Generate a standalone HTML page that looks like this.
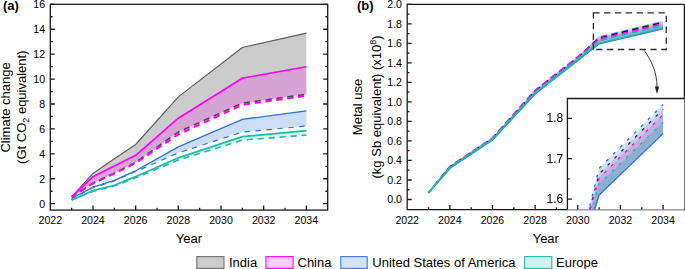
<!DOCTYPE html><html><head><meta charset="utf-8"><style>html,body{margin:0;padding:0;background:#fff;}body{width:685px;height:269px;overflow:hidden;position:relative;font-family:"Liberation Sans", sans-serif;}</style></head><body><svg width="685" height="269" viewBox="0 0 685 269" style="position:absolute;left:0;top:0;font-family:'Liberation Sans', sans-serif">
<rect width="685" height="269" fill="#fff"/>
<g>
<path d="M71.64,196.85 L92.98,173.42 L114.32,158.83 L135.65,144.50 L178.33,96.90 L242.35,47.54 L306.36,33.09 L306.36,94.28 L242.35,103.13 L178.33,132.04 L135.65,162.32 L114.32,173.17 L92.98,183.14 L71.64,196.85Z" fill="rgba(0,0,0,0.2)" stroke="none"/>
<path d="M71.64,196.85 L92.98,176.66 L114.32,166.06 L135.65,155.35 L178.33,118.21 L242.35,78.20 L306.36,66.74 L306.36,95.77 L242.35,104.87 L178.33,134.41 L135.65,163.07 L114.32,173.54 L92.98,183.51 L71.64,196.85Z" fill="rgba(255,0,255,0.2)" stroke="none"/>
<path d="M71.64,198.47 L92.98,187.12 L114.32,180.40 L135.65,170.80 L178.33,146.87 L242.35,119.33 L306.36,110.85 L306.36,126.06 L242.35,132.04 L178.33,152.85 L135.65,171.55 L114.32,181.02 L92.98,187.75 L71.64,198.47Z" fill="rgba(0,92,214,0.2)" stroke="none"/>
<path d="M71.64,199.96 L92.98,190.61 L114.32,185.26 L135.65,176.66 L178.33,157.84 L242.35,136.65 L306.36,130.55 L306.36,135.16 L242.35,140.14 L178.33,160.08 L135.65,177.78 L114.32,186.00 L92.98,191.24 L71.64,199.96Z" fill="rgba(32,190,170,0.2)" stroke="none"/>
</g>
<polyline points="71.64,196.85 92.98,173.42 114.32,158.83 135.65,144.50 178.33,96.90 242.35,47.54 306.36,33.09" fill="none" stroke="#5e5e5e" stroke-width="1.15" stroke-linejoin="round"/>
<polyline points="71.64,196.85 92.98,176.66 114.32,166.06 135.65,155.35 178.33,118.21 242.35,78.20 306.36,66.74" fill="none" stroke="#ff00ff" stroke-width="1.7" stroke-linejoin="round"/>
<polyline points="71.64,198.47 92.98,187.12 114.32,180.40 135.65,170.80 178.33,146.87 242.35,119.33 306.36,110.85" fill="none" stroke="#2f74d8" stroke-width="1.3" stroke-linejoin="round"/>
<polyline points="71.64,199.96 92.98,190.61 114.32,185.26 135.65,176.66 178.33,157.84 242.35,136.65 306.36,130.55" fill="none" stroke="#22b8a6" stroke-width="1.7" stroke-linejoin="round"/>
<polyline points="71.64,198.47 92.98,187.75 114.32,181.02 135.65,171.55 178.33,152.85 242.35,132.04 306.36,126.06" fill="none" stroke="#2f74d8" stroke-width="1.2" stroke-linejoin="round" stroke-dasharray="5.4,5.6" stroke-dashoffset="1.32"/>
<polyline points="71.64,199.96 92.98,191.24 114.32,186.00 135.65,177.78 178.33,160.08 242.35,140.14 306.36,135.16" fill="none" stroke="#22b8a6" stroke-width="1.6" stroke-linejoin="round" stroke-dasharray="6.2,4.8" stroke-dashoffset="1.51"/>
<polyline points="71.64,196.85 92.98,183.14 114.32,173.17 135.65,162.32 178.33,132.04 242.35,103.13 306.36,94.28" fill="none" stroke="#4a4a4a" stroke-width="1.6" stroke-linejoin="round" stroke-dasharray="6.2,4.75" stroke-dashoffset="0.22"/>
<polyline points="71.64,196.85 92.98,183.51 114.32,173.54 135.65,163.07 178.33,134.41 242.35,104.87 306.36,95.77" fill="none" stroke="#ff00ff" stroke-width="2.0" stroke-linejoin="round" stroke-dasharray="6.2,4.75" stroke-dashoffset="1.23"/>
<rect x="50.3" y="4.3" width="277.40" height="205.80" fill="none" stroke="#1a1a1a" stroke-width="1.3"/>
<path d="M50.30,203.70h4.5M50.30,178.77h4.5M50.30,153.85h4.5M50.30,128.93h4.5M50.30,104.00h4.5M50.30,79.08h4.5M50.30,54.15h4.5M50.30,29.23h4.5M50.30,4.30h4.5M50.30,191.24h2.3M50.30,166.31h2.3M50.30,141.39h2.3M50.30,116.46h2.3M50.30,91.54h2.3M50.30,66.61h2.3M50.30,41.69h2.3M50.30,16.76h2.3M327.70,203.70h-4.5M327.70,178.77h-4.5M327.70,153.85h-4.5M327.70,128.93h-4.5M327.70,104.00h-4.5M327.70,79.08h-4.5M327.70,54.15h-4.5M327.70,29.23h-4.5M327.70,4.30h-4.5M327.70,191.24h-2.3M327.70,166.31h-2.3M327.70,141.39h-2.3M327.70,116.46h-2.3M327.70,91.54h-2.3M327.70,66.61h-2.3M327.70,41.69h-2.3M327.70,16.76h-2.3M92.98,210.10v-4.6M135.65,210.10v-4.6M178.33,210.10v-4.6M221.01,210.10v-4.6M263.68,210.10v-4.6M306.36,210.10v-4.6M71.64,210.10v-2.4M114.32,210.10v-2.4M156.99,210.10v-2.4M199.67,210.10v-2.4M242.35,210.10v-2.4M285.02,210.10v-2.4" stroke="#1a1a1a" stroke-width="1.3" fill="none"/>
<g font-size="10.6" text-anchor="end" fill="#000">
<text x="45.10" y="207.60">0</text>
<text x="45.10" y="182.67">2</text>
<text x="45.10" y="157.75">4</text>
<text x="45.10" y="132.83">6</text>
<text x="45.10" y="107.90">8</text>
<text x="45.10" y="82.98">10</text>
<text x="45.10" y="58.05">12</text>
<text x="45.10" y="33.13">14</text>
<text x="45.10" y="8.20">16</text>
</g>
<g font-size="10.6" text-anchor="middle" fill="#000">
<text x="50.30" y="223.7">2022</text>
<text x="92.98" y="223.7">2024</text>
<text x="135.65" y="223.7">2026</text>
<text x="178.33" y="223.7">2028</text>
<text x="221.01" y="223.7">2030</text>
<text x="263.68" y="223.7">2032</text>
<text x="306.36" y="223.7">2034</text>
</g>
<text x="189.00" y="242.6" font-size="13" text-anchor="middle">Year</text>
<text transform="translate(9.5,107.40) rotate(-90)" font-size="13" text-anchor="middle">Climate change</text>
<text transform="translate(26.3,107.20) rotate(-90)" font-size="13" text-anchor="middle">(Gt CO<tspan font-size="9" dy="3">2</tspan><tspan dy="-3"> equivalent)</tspan></text>
<text x="3" y="9.6" font-size="13" font-weight="bold">(a)</text>
<path d="M428.52,191.69 L449.85,165.73 L492.49,137.04 L535.14,89.50 L577.78,56.03 L599.11,38.26 L663.08,22.94 L663.08,27.53 L599.11,42.36 L577.78,59.05 L535.14,92.43 L492.49,138.50 L449.85,166.90 L428.52,191.69Z" fill="rgba(255,0,255,0.2)" stroke="none"/><path d="M428.52,191.69 L449.85,165.93 L492.49,137.43 L535.14,89.90 L577.78,56.52 L599.11,37.29 L663.08,21.58 L663.08,27.53 L599.11,42.36 L577.78,59.05 L535.14,92.43 L492.49,138.50 L449.85,166.90 L428.52,191.69Z" fill="rgba(128,128,128,0.2)" stroke="none"/><path d="M428.52,191.69 L449.85,166.02 L492.49,137.52 L535.14,90.09 L577.78,56.71 L599.11,35.92 L663.08,20.50 L663.08,27.53 L599.11,42.36 L577.78,59.05 L535.14,92.43 L492.49,138.50 L449.85,166.90 L428.52,191.69Z" fill="rgba(40,110,210,0.2)" stroke="none"/><path d="M428.52,191.69 L449.85,166.12 L492.49,137.62 L535.14,91.36 L577.78,57.78 L599.11,39.73 L663.08,24.80 L663.08,27.53 L599.11,42.36 L577.78,59.05 L535.14,92.43 L492.49,138.50 L449.85,166.90 L428.52,191.69Z" fill="rgba(32,178,170,0.3)" stroke="none"/><polyline points="428.52,192.69 449.85,167.02 492.49,138.52 535.14,91.09 577.78,57.71 599.11,36.92 663.08,21.50" fill="none" stroke="#2f74d8" stroke-width="1.1" stroke-linejoin="round" stroke-dasharray="6.5,4.2" stroke-dashoffset="1.24"/><polyline points="428.52,192.49 449.85,166.73 492.49,138.23 535.14,90.70 577.78,57.32 599.11,38.09 663.08,22.38" fill="none" stroke="#111" stroke-width="1.4" stroke-linejoin="round" stroke-dasharray="6.5,4.2" stroke-dashoffset="2.11"/><polyline points="428.52,192.49 449.85,166.53 492.49,137.84 535.14,90.30 577.78,56.83 599.11,39.06 663.08,23.74" fill="none" stroke="#ff00ff" stroke-width="1.6" stroke-linejoin="round" stroke-dasharray="6.5,4.2" stroke-dashoffset="2.82"/><polyline points="428.52,192.89 449.85,168.10 492.49,139.70 535.14,93.63 577.78,60.25 599.11,43.56 663.08,28.73" fill="none" stroke="#2f74d8" stroke-width="1.8" stroke-linejoin="round"/><polyline points="428.52,192.79 449.85,168.00 492.49,139.60 535.14,93.53 577.78,60.06 599.11,43.27 663.08,28.04" fill="none" stroke="#22b8a6" stroke-width="1.5" stroke-linejoin="round"/><polyline points="428.52,192.49 449.85,166.92 492.49,138.42 535.14,92.16 577.78,58.58 599.11,40.53 663.08,25.60" fill="none" stroke="#22b8a6" stroke-width="1.5" stroke-linejoin="round" stroke-dasharray="6.5,4.2" stroke-dashoffset="3.98"/>
<path d="M684.40,4.30H407.20V209.60H684.40V4.30" fill="none" stroke="#1a1a1a" stroke-width="1.3"/>
<path d="M407.20,199.50h4.5M407.20,179.98h4.5M407.20,160.46h4.5M407.20,140.94h4.5M407.20,121.42h4.5M407.20,101.90h4.5M407.20,82.38h4.5M407.20,62.86h4.5M407.20,43.34h4.5M407.20,23.82h4.5M407.20,4.30h4.5M407.20,189.74h2.3M407.20,170.22h2.3M407.20,150.70h2.3M407.20,131.18h2.3M407.20,111.66h2.3M407.20,92.14h2.3M407.20,72.62h2.3M407.20,53.10h2.3M407.20,33.58h2.3M407.20,14.06h2.3M449.85,209.60v-4.6M492.49,209.60v-4.6M535.14,209.60v-4.6M577.78,209.60v-4.6M620.43,209.60v-4.6M663.08,209.60v-4.6M428.52,209.60v-2.4M471.17,209.60v-2.4M513.82,209.60v-2.4M556.46,209.60v-2.4M599.11,209.60v-2.4M641.75,209.60v-2.4" stroke="#1a1a1a" stroke-width="1.3" fill="none"/>
<g font-size="10.6" text-anchor="end" fill="#000">
<text x="402.00" y="203.40">0.0</text>
<text x="402.00" y="183.88">0.2</text>
<text x="402.00" y="164.36">0.4</text>
<text x="402.00" y="144.84">0.6</text>
<text x="402.00" y="125.32">0.8</text>
<text x="402.00" y="105.80">1.0</text>
<text x="402.00" y="86.28">1.2</text>
<text x="402.00" y="66.76">1.4</text>
<text x="402.00" y="47.24">1.6</text>
<text x="402.00" y="27.72">1.8</text>
<text x="402.00" y="8.20">2.0</text>
</g>
<g font-size="10.6" text-anchor="middle" fill="#000">
<text x="407.20" y="223.7">2022</text>
<text x="449.85" y="223.7">2024</text>
<text x="492.49" y="223.7">2026</text>
<text x="535.14" y="223.7">2028</text>
<text x="577.78" y="223.7">2030</text>
<text x="620.43" y="223.7">2032</text>
<text x="663.08" y="223.7">2034</text>
</g>
<text x="545.80" y="242.6" font-size="13" text-anchor="middle">Year</text>
<text transform="translate(361.6,106.95) rotate(-90)" font-size="13" text-anchor="middle">Metal use</text>
<text transform="translate(380.9,106.95) rotate(-90)" font-size="13" text-anchor="middle">(kg Sb equivalent) (x10<tspan font-size="9" dy="-5">8</tspan><tspan dy="5">)</tspan></text>
<text x="357" y="9.7" font-size="13" font-weight="bold">(b)</text>
<path d="M593.3,12.8H666.3V49.5H593.4" fill="none" stroke="#2a2a2a" stroke-width="1.3" stroke-dasharray="6.3,4.55"/>
<path d="M593.4,12.2V49.5" fill="none" stroke="#2a2a2a" stroke-width="1.3" stroke-dasharray="6.3,4.4"/>
<path d="M644.3,50.5 C651,60 657,72 657,87" fill="none" stroke="#222" stroke-width="0.9"/>
<path d="M654.9,86.5 L657,94.2 L659.1,86.5 Z" fill="#222"/>
<rect x="567.4" y="98.5" width="117.00" height="111.10" fill="#fff" stroke="none"/>
<clipPath id="ic"><rect x="567.4" y="98.5" width="117.00" height="111.10"/></clipPath>
<g clip-path="url(#ic)"><path d="M428.52,813.18 L449.85,705.72 L492.49,586.94 L535.14,390.19 L577.78,251.62 L599.11,178.09 L663.08,114.66 L663.08,133.65 L599.11,195.06 L577.78,264.14 L535.14,402.31 L492.49,593.00 L449.85,710.56 L428.52,813.18Z" fill="rgba(255,0,255,0.2)" stroke="none"/><path d="M428.52,813.18 L449.85,706.52 L492.49,588.56 L535.14,391.81 L577.78,253.64 L599.11,174.05 L663.08,109.01 L663.08,133.65 L599.11,195.06 L577.78,264.14 L535.14,402.31 L492.49,593.00 L449.85,710.56 L428.52,813.18Z" fill="rgba(128,128,128,0.2)" stroke="none"/><path d="M428.52,813.18 L449.85,706.93 L492.49,588.96 L535.14,392.62 L577.78,254.45 L599.11,168.40 L663.08,104.56 L663.08,133.65 L599.11,195.06 L577.78,264.14 L535.14,402.31 L492.49,593.00 L449.85,710.56 L428.52,813.18Z" fill="rgba(40,110,210,0.2)" stroke="none"/><path d="M428.52,813.18 L449.85,707.33 L492.49,589.36 L535.14,397.87 L577.78,258.89 L599.11,184.15 L663.08,122.34 L663.08,133.65 L599.11,195.06 L577.78,264.14 L535.14,402.31 L492.49,593.00 L449.85,710.56 L428.52,813.18Z" fill="rgba(32,178,170,0.3)" stroke="none"/><polyline points="428.52,813.18 449.85,710.56 492.49,593.00 535.14,402.31 577.78,264.14 599.11,195.06 663.08,133.65" fill="none" stroke="#3d5ae6" stroke-width="1.3" stroke-linejoin="round"/><polyline points="428.52,813.18 449.85,710.56 492.49,593.00 535.14,402.31 577.78,264.14 599.11,195.06 663.08,133.65" fill="none" stroke="#22b8a6" stroke-width="1.3" stroke-linejoin="round" stroke-dasharray="1.6,2.2"/><polyline points="428.52,813.18 449.85,706.93 492.49,588.96 535.14,392.62 577.78,254.45 599.11,168.40 663.08,104.56" fill="none" stroke="#2f74d8" stroke-width="1.3" stroke-linejoin="round" stroke-dasharray="3,6.8" stroke-dashoffset="7.96"/><polyline points="428.52,813.18 449.85,706.52 492.49,588.56 535.14,391.81 577.78,253.64 599.11,174.05 663.08,109.01" fill="none" stroke="#333" stroke-width="1.3" stroke-linejoin="round" stroke-dasharray="3,6.8" stroke-dashoffset="1.52"/><polyline points="428.52,813.18 449.85,705.72 492.49,586.94 535.14,390.19 577.78,251.62 599.11,178.09 663.08,114.66" fill="none" stroke="#ff00ff" stroke-width="1.3" stroke-linejoin="round" stroke-dasharray="3,6.8" stroke-dashoffset="0.75"/><polyline points="428.52,813.18 449.85,707.33 492.49,589.36 535.14,397.87 577.78,258.89 599.11,184.15 663.08,122.34" fill="none" stroke="#22b8a6" stroke-width="1.3" stroke-linejoin="round" stroke-dasharray="3,6.8" stroke-dashoffset="5.68"/></g>
<path d="M684.40,98.50H567.40V209.60" fill="none" stroke="#1a1a1a" stroke-width="1.3"/>
<path d="M567.40,199.10h4.5M567.40,158.70h4.5M567.40,118.30h4.5M567.40,178.90h2.3M567.40,138.50h2.3M577.78,209.60v-4.6M620.43,209.60v-4.6M663.08,209.60v-4.6M599.11,209.60v-2.4M641.75,209.60v-2.4" stroke="#1a1a1a" stroke-width="1.3" fill="none"/>
<g font-size="12" text-anchor="end" fill="#000" style="filter:grayscale(1)">
<text x="563.30" y="203.10">1.6</text>
<text x="563.30" y="162.70">1.7</text>
<text x="563.30" y="122.30">1.8</text>
</g>
<rect x="196.80" y="256.6" width="27.20" height="11.8" fill="#cccccc" stroke="#707070" stroke-width="1.1"/>
<text x="229.00" y="267" font-size="13">India</text>
<rect x="265.90" y="256.6" width="27.20" height="11.8" fill="#ffccff" stroke="#ff00ff" stroke-width="1.1"/>
<text x="297.50" y="267" font-size="13">China</text>
<rect x="340.80" y="256.6" width="26.40" height="11.8" fill="#d3e2f9" stroke="#3a78e2" stroke-width="1.1"/>
<text x="372.30" y="267" font-size="13">United States of America</text>
<rect x="524.60" y="256.6" width="27.20" height="11.8" fill="#d2f1ed" stroke="#22b8a6" stroke-width="1.1"/>
<text x="556.00" y="267" font-size="13">Europe</text>
</svg></body></html>
